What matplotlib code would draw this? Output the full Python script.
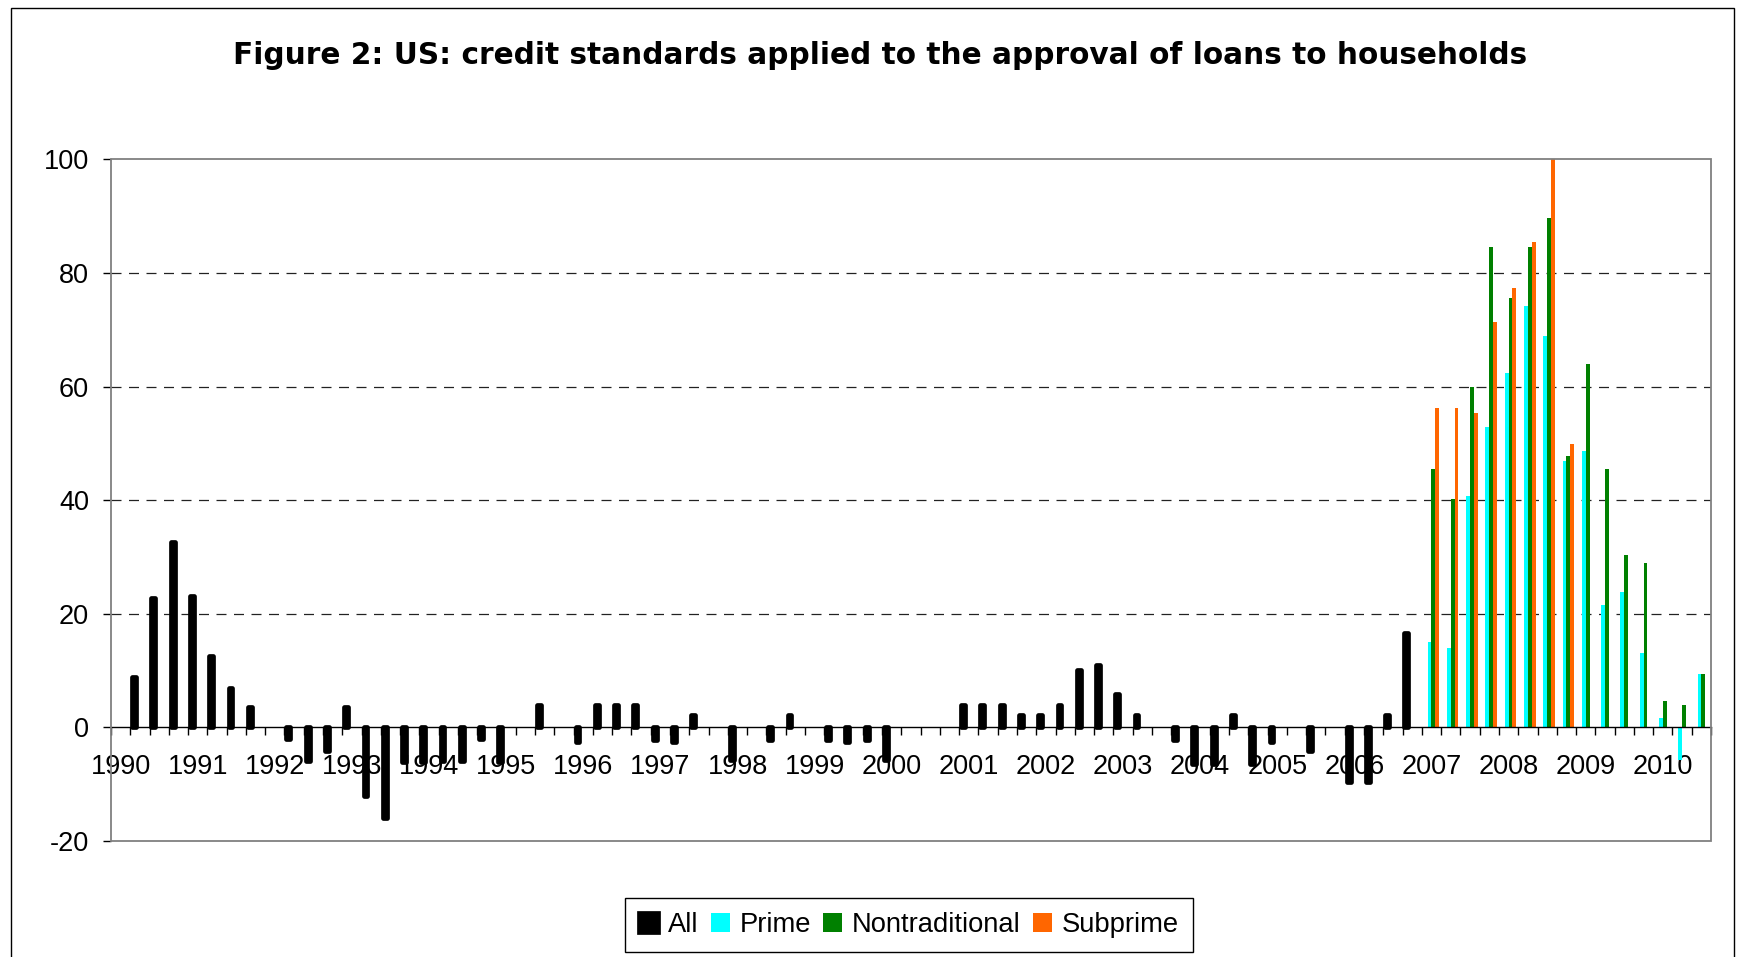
import numpy as np
import matplotlib.pyplot as plt
from matplotlib.patches import Rectangle

plt.rcParams['font.family'] = ['Liberation Sans', 'DejaVu Sans']
plt.rcParams['axes.unicode_minus'] = False

# quarterly categories, 1990Q1 .. 2010Q3
quarters = [f"{y}Q{q}" for y in range(1990, 2011) for q in range(1, 5)][:83]
year_labels = [str(y) for y in range(1990, 2011)]

nan = np.nan
# net percentage of banks tightening standards, all residential mortgages
all_loans = [
    nan, 8.8, 22.8, 32.7,      # 1990
    23.2, 12.5, 6.9, 3.6,      # 1991
    0.0, -2.1, -5.9, -4.1,     # 1992
    3.6, -12.0, -15.9, -6.1,   # 1993
    -6.1, -5.9, -5.9, -2.1,    # 1994
    -6.1, 0.0, 4.0, 0.0,       # 1995
    -2.6, 4.0, 4.0, 4.0,       # 1996
    -2.2, -2.6, 2.2, 0.0,      # 1997
    -5.8, 0.0, -2.2, 2.2,      # 1998
    0.0, -2.2, -2.6, -2.2,     # 1999
    -5.8, 0.0, 0.0, 0.0,       # 2000
    4.0, 4.0, 4.0, 2.2,        # 2001
    2.2, 4.0, 10.1, 11.0,      # 2002
    5.8, 2.2, 0.0, -2.2,       # 2003
    -6.4, -6.4, 2.2, -6.4,     # 2004
    -2.6, 0.0, -4.1, 0.0,      # 2005
    -9.6, -9.6, 2.2, 16.6,     # 2006
] + [nan] * 15

# split series from 2007Q1 onwards
prime = [nan] * 68 + [15.0, 13.9, 40.7, 52.9, 62.4, 74.1, 68.9, 46.9,
                      48.7, 21.5, 23.8, 13.1, 1.7, -5.7, 9.4]
nontraditional = [nan] * 68 + [45.5, 40.2, 60.0, 84.5, 75.5, 84.5, 89.6, 47.8,
                               63.9, 45.5, 30.3, 28.9, 4.6, 4.0, 9.4]
subprime = [nan] * 68 + [56.3, 56.3, 55.4, 71.3, 77.4, 85.4, 100.0, 49.8] + [nan] * 7

W, H = 1741, 957
fig = plt.figure(figsize=(W / 100, H / 100), dpi=100)
ax = fig.add_axes([111 / W, 1 - 841 / H, 1600 / W, (841 - 159.3) / H])

x = np.arange(len(quarters))
w = 0.2
series = [
    ('All', all_loans, -1.5, 'black', 3.4),
    ('Prime', prime, -0.5, '#00FFFF', 0),
    ('Nontraditional', nontraditional, 0.5, '#008000', 0),
    ('Subprime', subprime, 1.5, '#FF6600', 0),
]
handles = []
for name, vals, off, col, lw in series:
    v = np.array(vals, dtype=float)
    m = np.isfinite(v) & (v != 0)
    b = ax.bar(x[m] + off * w, v[m], w, color=col, edgecolor=col,
               linewidth=lw, joinstyle='round', label=name, zorder=3)
    handles.append(b)

for g in (20, 40, 60, 80):
    ax.axhline(g, color='#222222', lw=0.9, dashes=(8, 6), zorder=1)

ax.set_xlim(-0.5, len(quarters) - 0.5)
ax.set_ylim(-20, 100)
ax.set_yticks(range(-20, 101, 20))
ax.tick_params(axis='y', direction='out', length=5.8, width=1, pad=9.9,
               labelsize=19.5, color='black')

# category axis crosses at zero, ticks between quarters, labels on Q1
ax.spines['bottom'].set_position(('data', 0))
ax.spines['bottom'].set_color('black')
ax.spines['bottom'].set_linewidth(1.0)
ax.spines['bottom'].set_zorder(4)
ax.set_xticks(np.arange(-0.5, len(quarters), 1))
ax.set_xticklabels([])
ax.set_xticks(np.arange(0, len(quarters), 4), minor=True)
ax.set_xticklabels(year_labels, minor=True)
ax.tick_params(axis='x', which='major', direction='out', length=5.5, width=1,
               color='black')
ax.tick_params(axis='x', which='minor', length=0, pad=19, labelsize=19.5)

for s in ('left', 'top', 'right'):
    ax.spines[s].set_visible(False)
ax.add_patch(Rectangle((0, 0), 1, 1, transform=ax.transAxes, fill=False,
                       edgecolor='#808080', lw=1.3, clip_on=False, zorder=5))

fig.text(880 / W, 1 - 64 / H,
         'Figure 2: US: credit standards applied to the approval of loans to households',
         ha='center', va='baseline', fontsize=21.3, fontweight='bold',
         family=['DejaVu Sans'])

leg = ax.legend(handles=handles, loc='center', ncol=4,
                bbox_to_anchor=(909 / W, 1 - 925 / H), bbox_transform=fig.transFigure,
                fontsize=19.7, frameon=True, fancybox=False, framealpha=1,
                edgecolor='black', borderpad=0.5, handlelength=0.7,
                handleheight=0.7, handletextpad=0.35, columnspacing=0.45)
leg.get_frame().set_linewidth(1.0)

# chart border
fig.add_artist(Rectangle((11 / W, -0.01), (1734 - 11) / W, 1.01 - 7.5 / H,
                         transform=fig.transFigure, fill=False,
                         edgecolor='black', lw=1.0))

fig.savefig('out.png', dpi=100)
